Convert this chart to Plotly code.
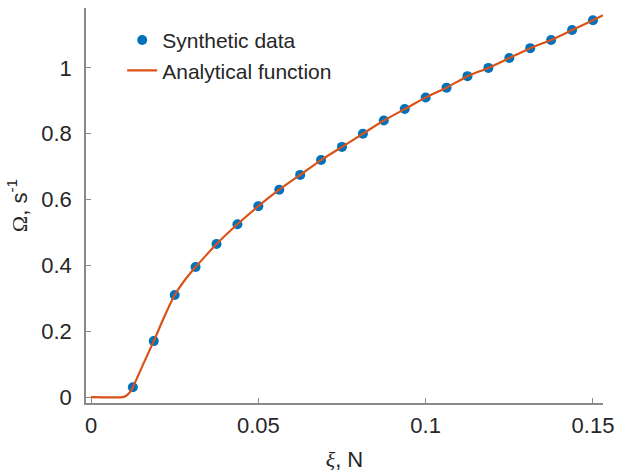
import plotly.graph_objects as go

# Synthetic data
data_xi = [0.0125, 0.01875, 0.025, 0.03125, 0.0375, 0.04375, 0.05, 0.05625, 0.0625,
           0.06875, 0.075, 0.08125, 0.0875, 0.09375, 0.1, 0.10625, 0.1125, 0.11875,
           0.125, 0.13125, 0.1375, 0.14375, 0.15]
data_omega = [0.03, 0.17, 0.31, 0.395, 0.465, 0.525, 0.58, 0.63, 0.675,
              0.72, 0.76, 0.80, 0.84, 0.875, 0.91, 0.94, 0.975, 1.0,
              1.03, 1.06, 1.085, 1.115, 1.145]

func_xi = [0.0, 0.0095, 0.0105, 0.0115, 0.0125, 0.0156, 0.01875, 0.0215, 0.025, 0.028,
           0.03125, 0.0345, 0.0375, 0.04375, 0.05, 0.05625, 0.0625, 0.06875, 0.075,
           0.08125, 0.0875, 0.09375, 0.1, 0.10625, 0.1125, 0.11875, 0.125, 0.13125,
           0.1375, 0.14375, 0.15, 0.153]
func_omega = [0.0, 0.0, 0.004, 0.013, 0.03, 0.10, 0.17, 0.235, 0.31, 0.355,
              0.395, 0.432, 0.465, 0.525, 0.58, 0.63, 0.675, 0.72, 0.76,
              0.80, 0.84, 0.875, 0.91, 0.94, 0.975, 1.0, 1.03, 1.06,
              1.085, 1.115, 1.145, 1.16]

x_tickvals = [0, 0.05, 0.1, 0.15]
x_ticktext = ["0", "0.05", "0.1", "0.15"]
y_tickvals = [0, 0.2, 0.4, 0.6, 0.8, 1.0]
y_ticktext = ["0", "0.2", "0.4", "0.6", "0.8", "1"]

BLUE = "#0072BD"
ORANGE = "#D95319"
AXIS = "#8a8a8a"
TEXT = "#262626"
FONT = "Liberation Sans, Arial, sans-serif"

fig = go.Figure()
fig.add_trace(go.Scatter(
    x=data_xi, y=data_omega, mode="markers", name="Synthetic data",
    marker=dict(color=BLUE, size=10, line=dict(width=0)),
    legendgroup="a",
))
fig.add_trace(go.Scatter(
    x=func_xi, y=func_omega, mode="lines", name="Analytical function",
    line=dict(color=ORANGE, width=2.2, shape="spline", smoothing=0.5),
    legendgroup="b",
))

fig.update_layout(
    width=622, height=476,
    margin=dict(l=86, r=14, t=8, b=72),
    paper_bgcolor="white", plot_bgcolor="white",
    font=dict(family=FONT, size=22, color=TEXT),
    showlegend=True,
    legend=dict(
        x=0.07, y=0.97, xanchor="left", yanchor="top",
        bgcolor="rgba(0,0,0,0)", borderwidth=0,
        font=dict(family=FONT, size=21, color=TEXT),
        traceorder="grouped", tracegroupgap=0,
    ),
    xaxis=dict(
        range=[-0.0015, 0.153], tickvals=x_tickvals, ticktext=x_ticktext,
        showgrid=False, zeroline=False, showline=True, linecolor=AXIS, linewidth=1.5,
        ticks="inside", ticklen=5, tickcolor=AXIS, tickwidth=1.2,
        ticklabelstandoff=2,
        tickfont=dict(family=FONT, size=22, color=TEXT),
        title=dict(text="<span style='font-family:Liberation Serif'><i>ξ</i></span>, N",
                   font=dict(family=FONT, size=22, color=TEXT), standoff=14),
    ),
    yaxis=dict(
        range=[-0.018, 1.182], tickvals=y_tickvals, ticktext=y_ticktext,
        showgrid=False, zeroline=False, showline=True, linecolor=AXIS, linewidth=1.5,
        ticks="inside", ticklen=5, tickcolor=AXIS, tickwidth=1.2,
        ticklabelstandoff=8,
        tickfont=dict(family=FONT, size=22, color=TEXT),
        title=dict(text="<span style='font-family:Liberation Serif'>Ω</span>, s<sup>-1</sup>",
                   font=dict(family=FONT, size=22, color=TEXT), standoff=8),
    ),
)

fig.write_html("out.html")
